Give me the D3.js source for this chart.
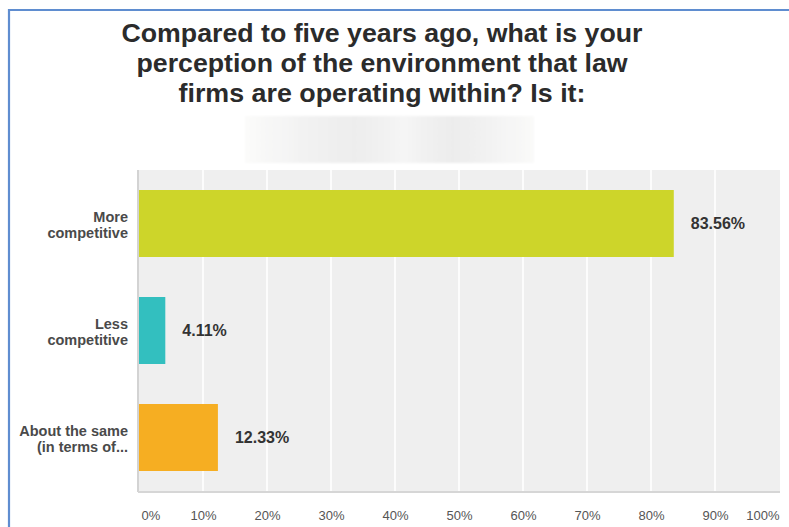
<!DOCTYPE html>
<html>
<head>
<meta charset="utf-8">
<script src="https://cdn.jsdelivr.net/npm/d3@7"></script>
<style>
  html, body { margin: 0; padding: 0; background: #fff; }
  svg { display: block; }
  text { font-family: "Liberation Sans", Arial, sans-serif; }
</style>
</head>
<body>
<svg id="chart" width="789" height="527"></svg>
<script>
// Survey answers and their shares (percent)
const categories = [
  ["More", "competitive"],
  ["Less", "competitive"],
  ["About the same", "(in terms of..."]
];
const values = [83.56, 4.11, 12.33];
const barColors = ["#cdd52a", "#33bfbf", "#f6ae22"];
const tickValues = [0, 10, 20, 30, 40, 50, 60, 70, 80, 90, 100];
const titleLines = [
  "Compared to five years ago, what is your",
  "perception of the environment that law",
  "firms are operating within? Is it:"
];

const svg = d3.select("#chart");
const W = 789, H = 527;
const plot = { left: 138, right: 780, top: 170, bottom: 491 };

// Outer frame
svg.append("path")
  .attr("d", `M9,${H + 5}V10H${W + 5}`)
  .attr("fill", "none")
  .attr("stroke", "#5f8dd0")
  .attr("stroke-width", 2.2);

// Title
const title = svg.append("g");
titleLines.forEach((line, i) => {
  const widths = [521, 491, 407];
  title.append("text")
    .attr("x", 382)
    .attr("y", 42 + i * 30)
    .attr("text-anchor", "middle")
    .attr("font-size", 25)
    .attr("font-weight", "bold")
    .attr("fill", "#2b2b2b")
    .attr("textLength", widths[i])
    .attr("lengthAdjust", "spacingAndGlyphs")
    .text(line);
});

// Soft placeholder panel under the title
const defs = svg.append("defs");
const grad = defs.append("linearGradient").attr("id", "panelGrad");
[[0, "#fbfbfa"], [0.18, "#f3f3f3"], [0.38, "#ededed"], [0.55, "#f5f5f5"],
 [0.72, "#ececec"], [0.88, "#f4f4f4"], [1, "#fafaf9"]]
  .forEach(([o, c]) => grad.append("stop").attr("offset", o).attr("stop-color", c));
const blur = defs.append("filter").attr("id", "soft")
  .attr("x", "-5%").attr("y", "-20%").attr("width", "110%").attr("height", "140%");
blur.append("feGaussianBlur").attr("stdDeviation", 1.2);
svg.append("rect")
  .attr("x", 245).attr("y", 116).attr("width", 289).attr("height", 47)
  .attr("fill", "url(#panelGrad)")
  .attr("filter", "url(#soft)");

// Scales
const x = d3.scaleLinear().domain([0, 100]).range([plot.left + 1, plot.right - 1]);
const y = d3.scaleBand()
  .domain(d3.range(values.length))
  .range([plot.top, plot.bottom])
  .paddingInner(0.374)
  .paddingOuter(0.187);

// Plot background
svg.append("rect")
  .attr("x", plot.left).attr("y", plot.top)
  .attr("width", plot.right - plot.left).attr("height", plot.bottom - plot.top)
  .attr("fill", "#efefef");

// Vertical gridlines
svg.append("g")
  .selectAll("line")
  .data(tickValues.slice(1, -1))
  .join("line")
  .attr("x1", d => x(d)).attr("x2", d => x(d))
  .attr("y1", plot.top).attr("y2", plot.bottom)
  .attr("stroke", "#ffffff")
  .attr("stroke-width", 1.6);

// Axis lines
svg.append("line")
  .attr("x1", plot.left).attr("x2", plot.left)
  .attr("y1", plot.top).attr("y2", plot.bottom + 1)
  .attr("stroke", "#d3d3d3").attr("stroke-width", 2);
svg.append("line")
  .attr("x1", plot.left).attr("x2", plot.right)
  .attr("y1", plot.bottom + 1).attr("y2", plot.bottom + 1)
  .attr("stroke", "#d6d6d6").attr("stroke-width", 2);

// Bars
svg.append("g")
  .selectAll("rect")
  .data(values)
  .join("rect")
  .attr("x", x(0))
  .attr("y", (d, i) => y(i))
  .attr("width", d => x(d) - x(0))
  .attr("height", y.bandwidth())
  .attr("fill", (d, i) => barColors[i]);

// Value labels
svg.append("g")
  .selectAll("text")
  .data(values)
  .join("text")
  .attr("x", d => x(d) + 17)
  .attr("y", (d, i) => y(i) + y.bandwidth() / 2 + 5.5)
  .attr("font-size", 16)
  .attr("font-weight", "bold")
  .attr("fill", "#333")
  .text(d => d.toFixed(2) + "%");

// Category labels
const catG = svg.append("g");
categories.forEach((lines, i) => {
  const t = catG.append("text")
    .attr("text-anchor", "end")
    .attr("font-size", 14.5)
    .attr("font-weight", "bold")
    .attr("fill", "#4a4a4a");
  lines.forEach((ln, j) => {
    t.append("tspan")
      .attr("x", 128)
      .attr("y", y(i) + y.bandwidth() / 2 - 2 + j * 16)
      .text(ln);
  });
});

// Bottom axis tick labels
const axis = d3.axisBottom(x)
  .tickValues(tickValues)
  .tickFormat(d => d + "%")
  .tickSize(0)
  .tickPadding(0);
const axG = svg.append("g")
  .attr("transform", `translate(0,${plot.bottom + 20})`)
  .call(axis);
axG.select(".domain").remove();
axG.selectAll("text")
  .attr("font-family", "\"Liberation Sans\", Arial, sans-serif")
  .attr("font-size", 13)
  .attr("fill", "#555")
  .attr("text-anchor", (d, i, n) => i === 0 ? "start" : i === n.length - 1 ? "end" : "middle")
  .attr("dx", (d, i, n) => i === 0 ? 2 : 0);
</script>
</body>
</html>
